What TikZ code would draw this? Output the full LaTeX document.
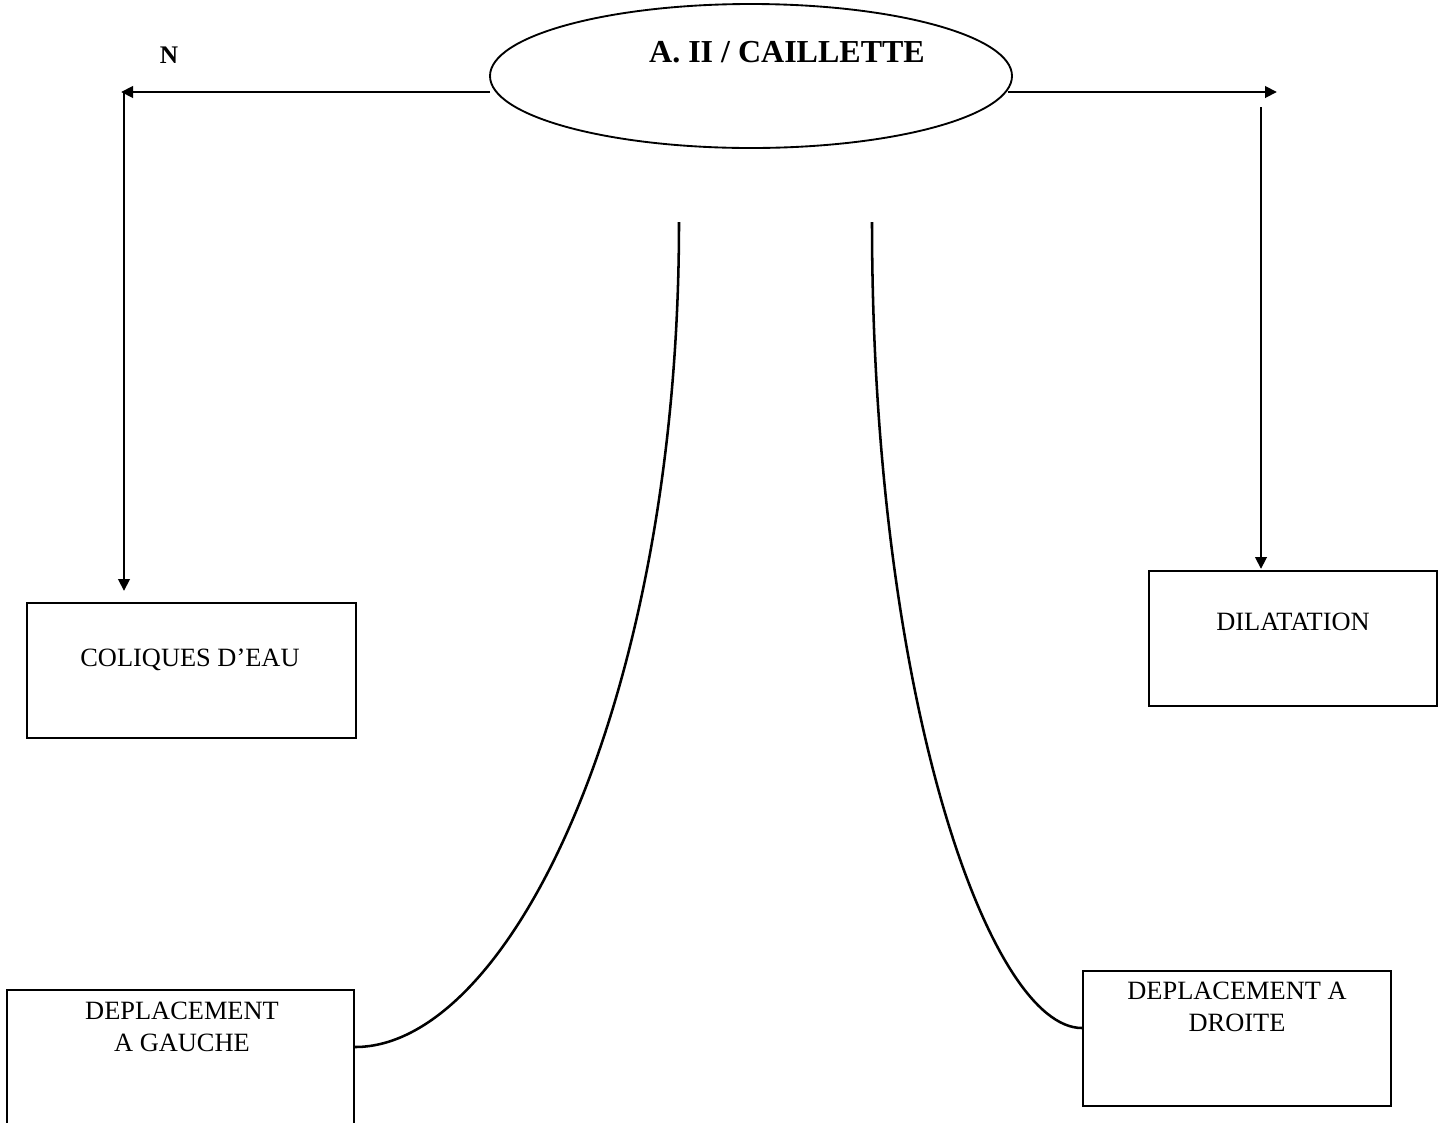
\documentclass[tikz,border=0pt]{standalone}
\usepackage{fontspec}
\setmainfont{Liberation Serif}
\usetikzlibrary{shapes.geometric,arrows.meta}
\begin{document}
\begin{tikzpicture}[x=0.75pt,y=-0.75pt,
  boxnode/.style={draw,line width=1.7pt,inner sep=0pt},
  txt/.style={font=\fontsize{19.8}{23.5}\selectfont,inner sep=0pt,align=center},
  arr/.style={line width=2.2pt,-{Triangle[length=9pt,width=8.5pt]}},
  curvel/.style={line width=1.9pt}]
\useasboundingbox (0,0) rectangle (1450,1122);
\clip (0,0) rectangle (1450,1122);
% central ellipse
\node[ellipse,draw,line width=1.4pt,minimum width=522*0.75pt,minimum height=144*0.75pt,inner sep=0pt] (ell) at (751,76) {};
\node[font=\bfseries\fontsize{24}{28}\selectfont,inner sep=0pt] (title) at (787,52) {A. II / CAILLETTE};
\node[font=\bfseries\fontsize{19}{22}\selectfont,inner sep=0pt] (nlab) at (169,55) {N};
% boxes
\node[boxnode,minimum width=329*0.75pt,minimum height=135*0.75pt] (bcol) at (191.5,670.5) {};
\node[txt] (tcol) at (190,660) {COLIQUES D’EAU};
\node[boxnode,minimum width=288*0.75pt,minimum height=135*0.75pt] (bdil) at (1293,638.5) {};
\node[txt] (tdil) at (1293,622) {DILATATION};
\node[boxnode,minimum width=347*0.75pt,minimum height=160*0.75pt] (bgau) at (180.5,1070) {};
\node[txt] (tgau) at (182,1027) {DEPLACEMENT\\ A GAUCHE};
\node[boxnode,minimum width=308*0.75pt,minimum height=135*0.75pt] (bdro) at (1237,1038.5) {};
\node[txt] (tdro) at (1237,1007) {DEPLACEMENT A\\ DROITE};
% coordinates
\coordinate (lstart) at (490,92);
\coordinate (lcorner) at (121,92);
\coordinate (ltop) at (124,91);
\coordinate (lend) at (124,591);
\coordinate (rstart) at (1008,92);
\coordinate (rend) at (1277,92);
\coordinate (rtop) at (1261,107);
\coordinate (rbot) at (1261,569);
\coordinate (cl) at (679,222);
\coordinate (cr) at (872,222);
\coordinate (gl) at (bgau.east |- 0,1047);
\coordinate (gr) at (bdro.west |- 0,1028);
% connectors
\draw[arr] (lstart) -- (lcorner);
\draw[arr] (ltop) -- (lend);
\draw[arr] (rstart) -- (rend);
\draw[arr] (rtop) -- (rbot);
\draw[curvel] (cl) .. controls (679,700) and (510,1047) .. (gl);
\draw[curvel] (cr) .. controls (872,700) and (990,1028) .. (gr);
\end{tikzpicture}
\end{document}
